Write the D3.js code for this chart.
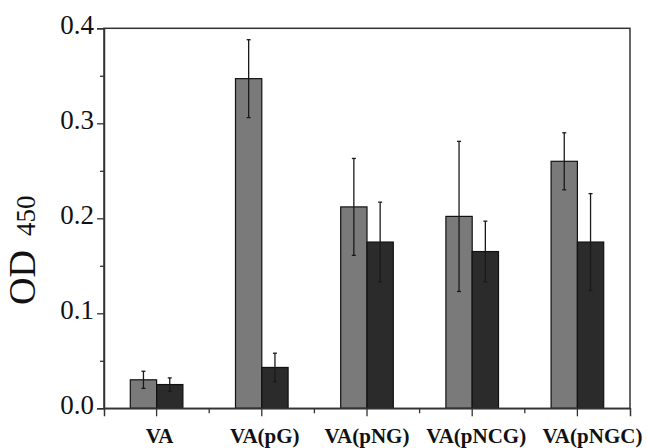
<!DOCTYPE html>
<html><head><meta charset="utf-8">
<script src="https://cdn.jsdelivr.net/npm/d3@7/dist/d3.min.js"></script>
<style>body{margin:0;background:#fff}svg{display:block}</style>
</head><body><svg id="c" width="647" height="448"></svg>
<script>
const categories = ["VA","VA(pG)","VA(pNG)","VA(pNCG)","VA(pNGC)"];
const seriesLight = [0.030,0.347,0.212,0.202,0.260];
const errLight    = [0.009,0.041,0.051,0.079,0.030];
const seriesDark  = [0.025,0.043,0.175,0.165,0.175];
const errDark     = [0.007,0.015,0.042,0.032,0.051];
const yTicks = [0,0.1,0.2,0.3,0.4];
const yTickLabels = ["0.0","0.1","0.2","0.3","0.4"];
const yMinorTicks = [0.05,0.15,0.25,0.35];
const labelShift = [3,3,0,4,15];

const svg = d3.select("#c");
const L=104, R=630, T=28.3, B=408.3;
const x = d3.scaleBand().domain(categories).range([L,R]).padding(0);
const y = d3.scaleLinear().domain([0,0.4]).range([B,T]);
const bw = x.bandwidth()/4;
const series = [
  {vals:seriesLight, errs:errLight, fill:"#7a7a7a", off:-1},
  {vals:seriesDark, errs:errDark, fill:"#2b2b2b", off:0}
];
series.forEach(s=>{
  const g = svg.append("g");
  g.selectAll("rect").data(categories).join("rect")
    .attr("x",(d)=>x(d)+x.bandwidth()/2+s.off*bw)
    .attr("y",(d,i)=>y(s.vals[i]))
    .attr("width",bw)
    .attr("height",(d,i)=>B-y(s.vals[i]))
    .attr("fill",s.fill).attr("stroke","#111").attr("stroke-width",1.2);
});
series.forEach(s=>{
  const g = svg.append("g").attr("stroke","#1a1a1a").attr("stroke-width",1.3);
  categories.forEach((c,i)=>{
    const cx = x(c)+x.bandwidth()/2+s.off*bw+bw/2;
    const y1=y(s.vals[i]+s.errs[i]), y0=y(s.vals[i]-s.errs[i]);
    g.append("line").attr("x1",cx).attr("x2",cx).attr("y1",y1).attr("y2",y0);
    g.append("line").attr("x1",cx-2).attr("x2",cx+2).attr("y1",y1).attr("y2",y1);
    g.append("line").attr("x1",cx-2).attr("x2",cx+2).attr("y1",y0).attr("y2",y0);
  });
});
// frame
svg.append("rect").attr("x",L).attr("y",T).attr("width",R-L).attr("height",B-T)
  .attr("fill","none").attr("stroke","#333").attr("stroke-width",1.5);
// y axis
const yAxis = d3.axisLeft(y).tickValues(yTicks).tickFormat((d,i)=>yTickLabels[i]).tickSize(7).tickPadding(3);
const ya = svg.append("g").attr("transform",`translate(${L},0)`).call(yAxis);
ya.select(".domain").attr("stroke","#333").attr("stroke-width",1.5);
ya.selectAll(".tick line").attr("stroke","#333").attr("stroke-width",1.3);
ya.selectAll("text").attr("font-family","Liberation Serif").attr("font-size",27).attr("fill","#111").attr("dy","0.18em");
const yMinor = d3.axisLeft(y).tickValues(yMinorTicks).tickFormat("").tickSize(4);
const ym = svg.append("g").attr("transform",`translate(${L},0)`).call(yMinor);
ym.select(".domain").remove();
ym.selectAll(".tick line").attr("stroke","#333").attr("stroke-width",1.3);
// x axis
const xAxis = d3.axisBottom(x).tickSize(8).tickPadding(12);
const xa = svg.append("g").attr("transform",`translate(0,${B})`).call(xAxis);
xa.select(".domain").attr("stroke","#333").attr("stroke-width",1.5);
xa.selectAll(".tick line").attr("stroke","#333").attr("stroke-width",1.3);
xa.selectAll("text").attr("font-family","Liberation Serif").attr("font-weight","bold").attr("font-size",21).attr("fill","#111")
  .attr("dx",(d,i)=>labelShift[i]);
const bounds = categories.slice(1).map(c=>x(c));
svg.append("g").selectAll("line").data(bounds).join("line")
  .attr("x1",d=>d).attr("x2",d=>d).attr("y1",B).attr("y2",B+5)
  .attr("stroke","#333").attr("stroke-width",1.3);
// y label
const yl = svg.append("text").attr("transform","translate(35,305) rotate(-90)")
  .attr("text-anchor","start").attr("font-family","Liberation Serif").attr("fill","#111");
yl.append("tspan").attr("font-size",38).text("OD");
yl.append("tspan").attr("font-size",27).attr("dx",14).text("450");
</script></body></html>
